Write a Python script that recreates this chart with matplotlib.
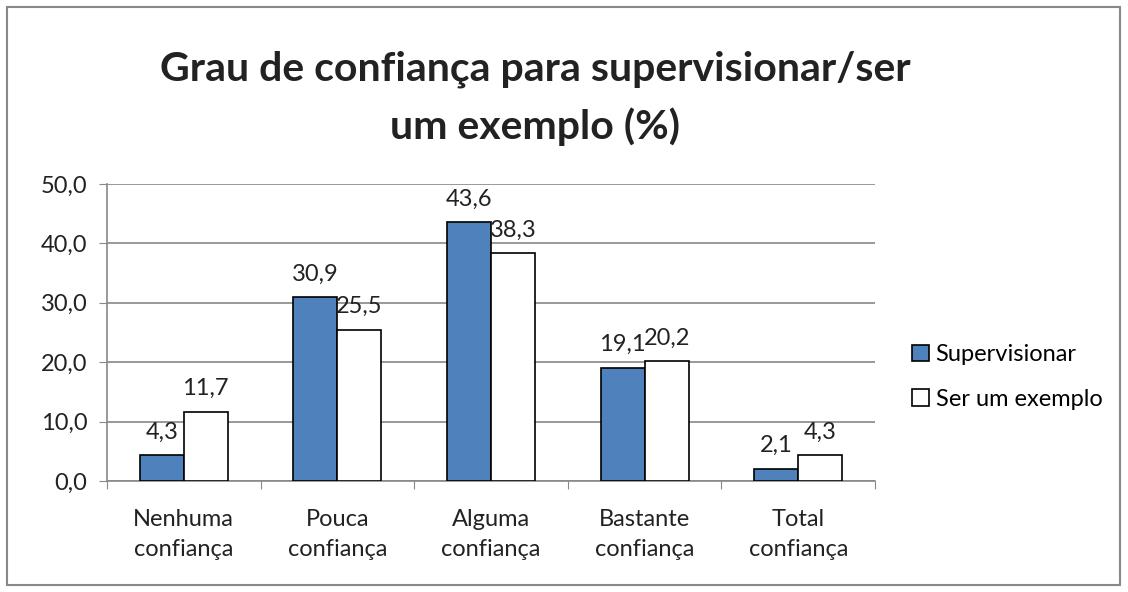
import matplotlib.pyplot as plt
import numpy as np
from matplotlib.patches import Rectangle

categories = ["Nenhuma\nconfiança", "Pouca\nconfiança", "Alguma\nconfiança",
              "Bastante\nconfiança", "Total\nconfiança"]
supervisionar = [4.3, 30.9, 43.6, 19.1, 2.1]
ser_exemplo = [11.7, 25.5, 38.3, 20.2, 4.3]
yticks = [0, 10, 20, 30, 40, 50]

plt.rcParams["font.family"] = ["Lato", "DejaVu Sans"]
FS = 17

fig = plt.figure(figsize=(11.28, 5.92), dpi=100)
ax = fig.add_axes([107 / 1128, 1 - 481 / 592, (875 - 107) / 1128, (481 - 184) / 592])

x = np.arange(len(categories))
w = 0.286
b1 = ax.bar(x - w / 2, supervisionar, w, color="#4f81bd", edgecolor="black", linewidth=1.2,
            label="Supervisionar", zorder=3)
b2 = ax.bar(x + w / 2, ser_exemplo, w, color="white", edgecolor="black", linewidth=1.2,
            label="Ser um exemplo", zorder=3)

for bars, vals in ((b1, supervisionar), (b2, ser_exemplo)):
    for r, v in zip(bars, vals):
        ax.annotate(f"{v:.1f}".replace(".", ","), (r.get_x() + r.get_width() / 2, v),
                    xytext=(0, 9), textcoords="offset points", ha="center", va="bottom",
                    fontsize=FS, color="#222222")

ax.set_xlim(-0.5, len(categories) - 0.5)
ax.set_ylim(0, 50)
ax.set_yticks(yticks)
ax.set_yticklabels([f"{t:.1f}".replace(".", ",") for t in yticks], fontsize=FS, color="#222222")
ax.set_xticks(np.arange(len(categories) + 1) - 0.5, minor=False)
ax.set_xticklabels([])
ax.set_xticks(x, minor=True)
ax.set_xticklabels(categories, minor=True, fontsize=FS, linespacing=1.55, color="#222222")
ax.tick_params(axis="x", which="minor", length=0, pad=20)
ax.tick_params(axis="x", which="major", length=6, direction="out", color="#888888")
ax.tick_params(axis="y", length=6, direction="out", color="#888888", pad=8)
ax.grid(axis="y", color="#888888", linewidth=1.2, zorder=0)
for s in ("top", "right"):
    ax.spines[s].set_visible(False)
ax.spines["left"].set_color("#888888")
ax.spines["bottom"].set_color("#888888")
ax.spines["left"].set_linewidth(1.2)
ax.spines["bottom"].set_linewidth(1.2)

fig.text(535 / 1128, 1 - 98 / 592, "Grau de confiança para supervisionar/ser\num exemplo (%)",
         ha="center", va="center", fontsize=29.5, fontweight="bold", linespacing=1.6,
         color="#222222")

fig.legend(handles=[b1, b2], loc="center left", bbox_to_anchor=(912 / 1128, 1 - 377 / 592),
           frameon=False, fontsize=FS, handlelength=0.7, handleheight=0.7, handletextpad=0.3,
           labelspacing=1.0, borderaxespad=0, borderpad=0)

fig.patches.append(Rectangle((7 / 1128, 7 / 592), 1113 / 1128, 578 / 592, transform=fig.transFigure,
                             fill=False, edgecolor="#888888", linewidth=1.5))

fig.savefig("out.png", dpi=100)
